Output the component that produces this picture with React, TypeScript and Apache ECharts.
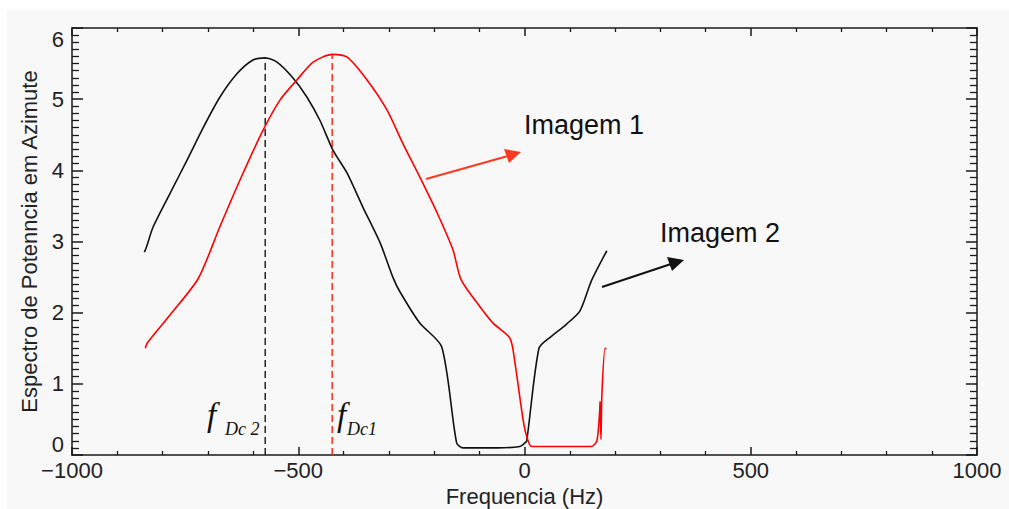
import React, { useEffect, useRef } from "react";
import * as echarts from "echarts";

// Imagem 2 (black curve)
const img2Freq = [-840, -835, -821, -783, -746, -710, -673, -635, -600, -573, -547, -512, -481, -452, -423, -392, -357, -319, -291, -275, -231, -183, -150, -136, -60, -10, 1, 5, 32, 56, 93, 123, 148, 182];
const img2Power = [2.85, 2.93, 3.2, 3.68, 4.14, 4.6, 5.03, 5.36, 5.55, 5.58, 5.52, 5.3, 5.03, 4.7, 4.28, 3.96, 3.48, 2.98, 2.5, 2.29, 1.85, 1.52, 0.17, 0.1, 0.1, 0.12, 0.17, 0.2, 1.5, 1.65, 1.84, 2.03, 2.45, 2.87];

// Imagem 1 (red curve)
const img1Freq = [-838, -834, -783, -721, -673, -629, -578, -540, -503, -467, -425, -392, -348, -304, -269, -231, -193, -158, -140, -98, -69, -32, -21, -3, 5, 16, 148, 160, 166, 167, 169, 171, 178, 181];
const img1Power = [1.5, 1.57, 1.97, 2.48, 3.21, 3.86, 4.56, 4.99, 5.27, 5.52, 5.63, 5.59, 5.27, 4.85, 4.38, 3.9, 3.4, 2.88, 2.46, 2.08, 1.85, 1.64, 1.29, 0.49, 0.26, 0.12, 0.12, 0.2, 0.6, 0.75, 0.22, 0.85, 1.5, 1.49];

// Doppler centroid markers
const fDc2 = -573;
const fDc2Peak = 5.58;
const fDc1 = -425;
const fDc1Peak = 5.63;

const xMin = -1000;
const xMax = 1000;
const xStep = 500;
const yMin = 0;
const yMax = 6;
const yStep = 1;

const xTitle = "Frequencia (Hz)";
const yTitle = "Espectro de Potenncia em Azimute";

const AXIS_COLOR = "#1a1a1a";
const LABEL_FONT = "Liberation Sans";

function pairs(xs: number[], ys: number[]) {
  return xs.map((x, i) => [x, ys[i]]);
}

export default function App() {
  const ref = useRef<HTMLDivElement>(null);

  useEffect(() => {
    if (!ref.current) return;
    const chart = echarts.init(ref.current, undefined, { renderer: "svg" });

    const axisCommonX = {
      type: "value" as const,
      min: xMin,
      max: xMax,
      interval: xStep,
      axisLine: { show: true, onZero: false, lineStyle: { color: AXIS_COLOR, width: 1.5 } },
      axisTick: { show: true, inside: true, length: 8, lineStyle: { color: AXIS_COLOR, width: 1.5 } },
      minorTick: { show: true, splitNumber: 5, length: 4, lineStyle: { color: AXIS_COLOR, width: 1.3 } },
      splitLine: { show: false },
      minorSplitLine: { show: false },
    };
    const axisCommonY = {
      type: "value" as const,
      min: yMin,
      max: yMax,
      interval: yStep,
      axisLine: { show: true, onZero: false, lineStyle: { color: AXIS_COLOR, width: 1.5 } },
      axisTick: { show: true, inside: true, length: 11, lineStyle: { color: AXIS_COLOR, width: 1.5 } },
      minorTick: { show: true, splitNumber: 10, length: 7, lineStyle: { color: AXIS_COLOR, width: 1.3 } },
      splitLine: { show: false },
      minorSplitLine: { show: false },
    };

    const option: any = {
      animation: false,
      backgroundColor: "transparent",
      grid: { left: 72, right: 32, top: 28, bottom: 54, containLabel: false, outerBoundsMode: "none" },
      xAxis: [
        {
          ...axisCommonX,
          position: "bottom",
          name: xTitle,
          nameLocation: "middle",
          nameGap: 30,
          nameMoveOverlap: false,
          nameTextStyle: { fontFamily: LABEL_FONT, fontSize: 22, color: "#222", lineHeight: 22 },
          axisLabel: {
            show: true,
            margin: 6,
            fontFamily: LABEL_FONT,
            fontSize: 22,
            lineHeight: 19,
            color: "#222",
            formatter: (v: number) => (v < 0 ? "\u2212" + Math.abs(v) : String(v)),
          },
        },
        {
          ...axisCommonX,
          position: "top",
          axisLabel: { show: false },
        },
      ],
      yAxis: [
        {
          ...axisCommonY,
          position: "left",
          name: yTitle,
          nameLocation: "middle",
          nameGap: 32,
          nameMoveOverlap: false,
          nameRotate: 90,
          nameTextStyle: { fontFamily: LABEL_FONT, fontSize: 22, color: "#222" },
          axisLabel: {
            show: true,
            margin: 8,
            fontFamily: LABEL_FONT,
            fontSize: 22,
            color: "#222",
            verticalAlignMinLabel: "bottom",
            verticalAlignMaxLabel: "top",
          },
        },
        {
          ...axisCommonY,
          position: "right",
          axisLabel: { show: false },
        },
      ],
      series: [
        {
          name: "Imagem 2",
          type: "line",
          xAxisIndex: 0,
          yAxisIndex: 0,
          showSymbol: false,
          symbol: "none",
          smooth: 0.25,
          data: pairs(img2Freq, img2Power),
          lineStyle: { color: "#111", width: 1.6 },
          z: 3,
        },
        {
          name: "Imagem 1",
          type: "line",
          xAxisIndex: 0,
          yAxisIndex: 0,
          showSymbol: false,
          symbol: "none",
          smooth: 0.25,
          data: pairs(img1Freq, img1Power),
          lineStyle: { color: "#ff0000", width: 1.6 },
          z: 4,
        },
        {
          name: "fDc2",
          type: "line",
          showSymbol: false,
          symbol: "none",
          data: [[fDc2, 0], [fDc2, fDc2Peak]],
          lineStyle: { color: "#222", width: 1.5, type: [7, 4] },
          z: 2,
        },
        {
          name: "fDc1",
          type: "line",
          showSymbol: false,
          symbol: "none",
          data: [[fDc1, 0], [fDc1, fDc1Peak]],
          lineStyle: { color: "#ff2a1a", width: 1.5, type: [7, 4] },
          z: 2,
        },
      ],
      graphic: [
        // f_Dc2 label
        {
          type: "text",
          left: 207,
          top: 398,
          style: { text: "f", font: "italic 33px 'Liberation Serif'", fill: "#111" },
        },
        {
          type: "text",
          left: 225,
          top: 420,
          style: { text: "Dc 2", font: "italic 18px 'Liberation Serif'", fill: "#111" },
        },
        // f_Dc1 label
        {
          type: "text",
          left: 337,
          top: 398,
          style: { text: "f", font: "italic 33px 'Liberation Serif'", fill: "#111" },
        },
        {
          type: "text",
          left: 347,
          top: 420,
          style: { text: "Dc1", font: "italic 18px 'Liberation Serif'", fill: "#111" },
        },
        // Imagem 1 annotation
        {
          type: "text",
          left: 524,
          top: 111,
          style: { text: "Imagem 1", font: "27px 'Liberation Sans'", fill: "#111" },
        },
        {
          type: "line",
          shape: { x1: 426, y1: 179, x2: 508, y2: 156 },
          style: { stroke: "#ff3b1f", lineWidth: 2 },
        },
        {
          type: "polygon",
          shape: { points: [[521, 152], [504, 149], [509, 163]] },
          style: { fill: "#ff3b1f" },
        },
        // Imagem 2 annotation
        {
          type: "text",
          left: 660,
          top: 219,
          style: { text: "Imagem 2", font: "27px 'Liberation Sans'", fill: "#111" },
        },
        {
          type: "line",
          shape: { x1: 602, y1: 287, x2: 671, y2: 264 },
          style: { stroke: "#111", lineWidth: 2 },
        },
        {
          type: "polygon",
          shape: { points: [[684, 260], [667, 257], [672, 271]] },
          style: { fill: "#111" },
        },
      ],
    };

    chart.setOption(option);
    return () => chart.dispose();
  }, []);

  return (
    <div style={{ position: "fixed", left: 0, top: 0, width: 1009, height: 509, background: "#ffffff" }}>
      <div style={{ position: "absolute", left: 7, top: 10, right: 0, bottom: 0, background: "#f8f8f8" }} />
      <div ref={ref} style={{ position: "absolute", left: 0, top: 0, width: 1009, height: 509 }} />
    </div>
  );
}
